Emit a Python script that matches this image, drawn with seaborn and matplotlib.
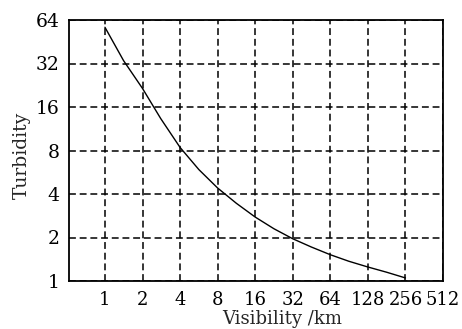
import matplotlib
matplotlib.use("Agg")
import matplotlib.pyplot as plt
import seaborn as sns
import pandas as pd
from matplotlib.ticker import FixedLocator, FixedFormatter, NullLocator

visibility = [1, 1.41, 2, 2.8, 4, 5.66, 8, 11.3, 16, 22.6, 32, 45, 64, 90, 128, 181, 256]
turbidity = [57, 33.5, 21.5, 13.3, 8.4, 5.9, 4.4, 3.45, 2.77, 2.3, 1.96, 1.72, 1.52, 1.37, 1.25, 1.15, 1.05]
x_ticks = [1, 2, 4, 8, 16, 32, 64, 128, 256, 512]
y_ticks = [1, 2, 4, 8, 16, 32, 64]

sns.set_style("white")
plt.rcParams['font.family'] = ['DejaVu Serif']

df = pd.DataFrame({"Visibility": visibility, "Turbidity": turbidity})

fig = plt.figure(figsize=(4.62, 3.29), dpi=100)
ax = fig.add_axes([69/462, 1 - 281/329, (443-69)/462, (281-20)/329])
sns.lineplot(data=df, x="Visibility", y="Turbidity", ax=ax, color="black", lw=1.0)
ax.set_xscale("log", base=2)
ax.set_yscale("log", base=2)
ax.set_xlim(2 ** -0.957, 512)
ax.set_ylim(1, 64)
ax.xaxis.set_major_locator(FixedLocator(x_ticks))
ax.xaxis.set_major_formatter(FixedFormatter([str(v) for v in x_ticks]))
ax.xaxis.set_minor_locator(NullLocator())
ax.yaxis.set_major_locator(FixedLocator(y_ticks))
ax.yaxis.set_major_formatter(FixedFormatter([str(v) for v in y_ticks]))
ax.yaxis.set_minor_locator(NullLocator())
ax.tick_params(axis="y", length=0, labelsize=13.5, pad=7, colors="black")
ax.tick_params(axis="x", length=0, labelsize=13, pad=7, colors="black")
ax.grid(True, color="black", linestyle=(0, (4.5, 2.5)), lw=1.1)
for s in ax.spines.values():
    s.set_color("black")
    s.set_linewidth(1.3)
    s.set_zorder(5)
ax.set_xlabel("Visibility /km", fontsize=13)
ax.xaxis.set_label_coords((282 - 69) / 374, -0.111)
ax.set_ylabel("Turbidity", fontsize=13.5)
ax.yaxis.set_label_coords(-0.103, 0.48)
fig.savefig("out.png", dpi=100, facecolor="white")
